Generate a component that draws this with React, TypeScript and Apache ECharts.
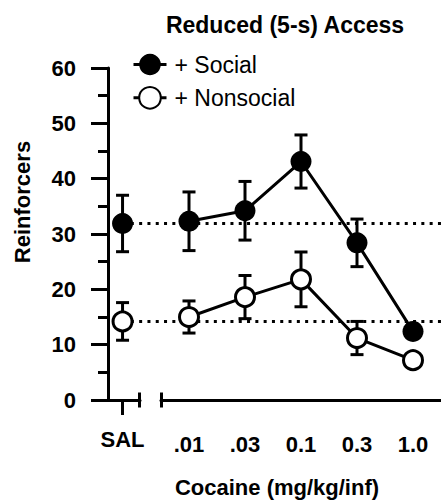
import React, { useEffect, useRef } from 'react';
import * as echarts from 'echarts';

const doses = ['.01', '.03', '0.1', '0.3', '1.0'];
const salLabel = 'SAL';
const socialSal = 31.9;
const socialSalErr = 5.1;
const nonsocialSal = 14.2;
const nonsocialSalErr = 3.4;
const socialMean = [32.3, 34.2, 43.1, 28.4, 12.4];
const socialErr = [5.3, 5.3, 4.8, 4.3, 1.0];
const nonsocialMean = [15.0, 18.6, 21.8, 11.2, 7.2];
const nonsocialErr = [2.9, 3.9, 4.95, 3.0, 1.0];

const FONT = '"Liberation Sans", Arial, sans-serif';

const errRender = (params: any, api: any) => {
  const x = api.value(0);
  const lo = api.value(1);
  const hi = api.value(2);
  const pLo = api.coord([x, lo]);
  const pHi = api.coord([x, hi]);
  const hw = 6.5;
  const style = { stroke: '#000', lineWidth: 3 };
  return {
    type: 'group',
    children: [
      { type: 'line', shape: { x1: pHi[0], y1: pHi[1], x2: pLo[0], y2: pLo[1] }, style },
      { type: 'line', shape: { x1: pHi[0] - hw, y1: pHi[1], x2: pHi[0] + hw, y2: pHi[1] }, style },
      { type: 'line', shape: { x1: pLo[0] - hw, y1: pLo[1], x2: pLo[0] + hw, y2: pLo[1] }, style },
    ],
  };
};

export default function App() {
  const ref = useRef<HTMLDivElement>(null);
  useEffect(() => {
    if (!ref.current) return;
    const chart = echarts.init(ref.current, undefined, { renderer: 'svg' });
    const axisLineStyle = { color: '#000', width: 3 };
    const labelStyle = { color: '#000', fontWeight: 'bold' as const, fontFamily: FONT };
    chart.setOption({
      animation: false,
      backgroundColor: '#fff',
      grid: [
        { left: 108, top: 68, width: 32, height: 332 },
        { left: 161, top: 68, width: 281, height: 332 },
      ],
      xAxis: [
        {
          type: 'value', gridIndex: 0, min: 0, max: 2.2,
          axisLine: { lineStyle: axisLineStyle },
          axisTick: { show: true, length: 15, lineStyle: axisLineStyle, customValues: [1] },
          axisLabel: { ...labelStyle, fontSize: 22, margin: 28, customValues: [1], formatter: () => salLabel },
          splitLine: { show: false },
        },
        {
          type: 'category', gridIndex: 1, data: doses, boundaryGap: true,
          axisLine: { lineStyle: axisLineStyle },
          axisTick: { alignWithLabel: true, length: 17, lineStyle: axisLineStyle },
          axisLabel: { ...labelStyle, fontSize: 22, margin: 33 },
        },
      ],
      yAxis: [
        {
          type: 'value', gridIndex: 0, min: 0, max: 60, interval: 10,
          axisLine: { show: true, lineStyle: axisLineStyle },
          axisTick: { show: true, length: 17, lineStyle: axisLineStyle },
          minorTick: { show: true, splitNumber: 2, length: 10, lineStyle: axisLineStyle },
          axisLabel: { ...labelStyle, fontSize: 22, margin: 32 },
          splitLine: { show: false },
        },
        { type: 'value', gridIndex: 1, min: 0, max: 60, show: false, splitLine: { show: false } },
      ],
      legend: {
        data: ['+ Social', '+ Nonsocial'],
        orient: 'vertical', left: 127, top: 48,
        itemWidth: 33, itemHeight: 27, itemGap: 10,
        textStyle: { fontSize: 23, color: '#000', fontFamily: FONT, padding: [0, 0, 0, 3] },
        lineStyle: { color: '#000', width: 3 },
      },
      series: [
        {
          type: 'custom', name: 'errSal', xAxisIndex: 0, yAxisIndex: 0, z: 1,
          renderItem: errRender, encode: { x: 0, y: [1, 2] },
          data: [
            [1, socialSal - socialSalErr, socialSal + socialSalErr],
            [1, nonsocialSal - nonsocialSalErr, nonsocialSal + nonsocialSalErr],
          ],
        },
        {
          type: 'custom', name: 'errDose', xAxisIndex: 1, yAxisIndex: 1, z: 1,
          renderItem: errRender, encode: { x: 0, y: [1, 2] },
          data: [
            ...socialMean.map((m, i) => [i, m - socialErr[i], m + socialErr[i]]),
            ...nonsocialMean.map((m, i) => [i, m - nonsocialErr[i], m + nonsocialErr[i]]),
          ],
        },
        {
          type: 'scatter', name: 'SAL Social', xAxisIndex: 0, yAxisIndex: 0,
          symbol: 'circle', symbolSize: 21, itemStyle: { color: '#000', opacity: 1 },
          data: [[1, socialSal]],
        },
        {
          type: 'scatter', name: 'SAL Nonsocial', xAxisIndex: 0, yAxisIndex: 0,
          symbol: 'circle', symbolSize: 19,
          itemStyle: { color: '#fff', borderColor: '#000', borderWidth: 3, opacity: 1 },
          data: [[1, nonsocialSal]],
        },
        {
          type: 'line', name: '+ Social', xAxisIndex: 1, yAxisIndex: 1,
          symbol: 'circle', symbolSize: 21, showAllSymbol: true,
          itemStyle: { color: '#000' },
          lineStyle: { color: '#000', width: 3 },
          data: socialMean,
        },
        {
          type: 'line', name: '+ Nonsocial', xAxisIndex: 1, yAxisIndex: 1,
          symbol: 'circle', symbolSize: 19, showAllSymbol: true,
          itemStyle: { color: '#fff', borderColor: '#000', borderWidth: 3 },
          lineStyle: { color: '#000', width: 3 },
          data: nonsocialMean,
        },
      ],
    });

    const pS = chart.convertToPixel({ gridIndex: 0 }, [1, socialSal]) as number[];
    const pN = chart.convertToPixel({ gridIndex: 0 }, [1, nonsocialSal]) as number[];
    const p0 = chart.convertToPixel({ gridIndex: 0 }, [2.2, 0]) as number[];
    const q0 = chart.convertToPixel({ gridIndex: 1 }, [0, 0]) as number[];
    const W = chart.getWidth();
    const dotStyle = { stroke: '#000', lineWidth: 3, lineDash: [3, 5.3] };
    const capStyle = { stroke: '#000', lineWidth: 3 };
    const gridLeft2 = 161;
    chart.setOption({
      graphic: [
        { type: 'line', z: 0, shape: { x1: pS[0], y1: pS[1], x2: W, y2: pS[1] }, style: dotStyle },
        { type: 'line', z: 0, shape: { x1: pN[0], y1: pN[1], x2: W, y2: pN[1] }, style: dotStyle },
        { type: 'line', z: 0, shape: { x1: p0[0] - 0.5, y1: p0[1] - 7.5, x2: p0[0] - 0.5, y2: p0[1] + 7.5 }, style: capStyle },
        { type: 'line', z: 0, shape: { x1: gridLeft2 + 0.5, y1: q0[1] - 7.5, x2: gridLeft2 + 0.5, y2: q0[1] + 7.5 }, style: capStyle },
        {
          type: 'text', x: 285, y: 25,
          style: { text: 'Reduced (5-s) Access', fill: '#000', font: `bold 23px ${FONT}`, textAlign: 'center', textVerticalAlign: 'middle' },
        },
        {
          type: 'text', x: 277, y: 487,
          style: { text: 'Cocaine (mg/kg/inf)', fill: '#000', font: `bold 22px ${FONT}`, textAlign: 'center', textVerticalAlign: 'middle' },
        },
        {
          type: 'text', x: 22, y: 202, rotation: Math.PI / 2,
          style: { text: 'Reinforcers', fill: '#000', font: `bold 22px ${FONT}`, textAlign: 'center', textVerticalAlign: 'middle' },
        },
      ],
    });

    return () => chart.dispose();
  }, []);
  return <div ref={ref} style={{ position: 'fixed', left: 0, top: 0, width: 441, height: 502 }} />;
}
